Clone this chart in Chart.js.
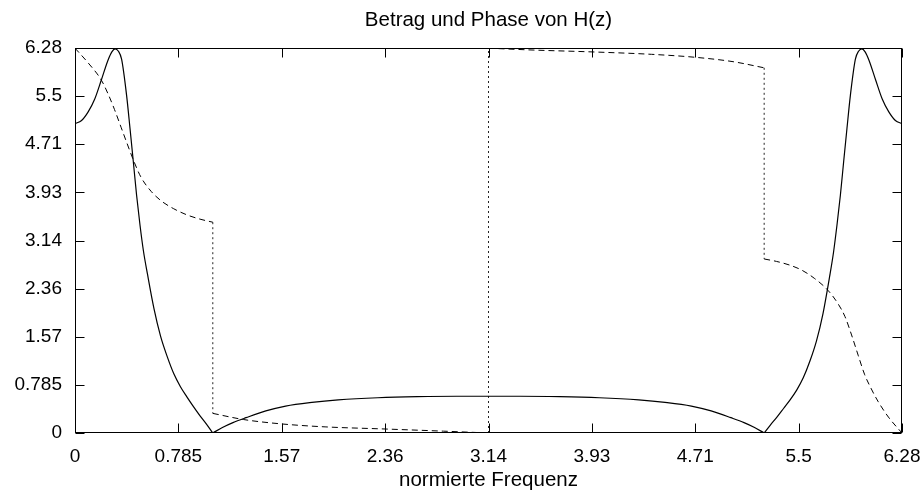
<!DOCTYPE html>
<html>
<head>
<meta charset="utf-8">
<script src="https://cdn.jsdelivr.net/npm/chart.js@4.4.1/dist/chart.umd.min.js"></script>
<style>
  html, body { margin: 0; padding: 0; background: #fff; }
  canvas { display: block; }
</style>
</head>
<body>
<canvas id="chart" width="924" height="496"></canvas>
<script>
// Betrag und Phase von H(z)
const TITLE = 'Betrag und Phase von H(z)';
const X_TITLE = 'normierte Frequenz';
const TICK_POS = [0, 0.7854, 1.5708, 2.3562, 3.1416, 3.9270, 4.7124, 5.4978, 6.2832];
const TICK_LABELS = ['0', '0.785', '1.57', '2.36', '3.14', '3.93', '4.71', '5.5', '6.28'];

// magnitude |H|, split at the two zeros
const magX1 = [0, 0.05, 0.1, 0.15, 0.2, 0.25, 0.28, 0.304, 0.33, 0.354, 0.392, 0.418, 0.443, 0.468, 0.494, 0.52, 0.55, 0.6, 0.65, 0.7, 0.75, 0.8, 0.85, 0.9, 0.95, 1.0, 1.047];
const magY1 = [5.05, 5.10, 5.24, 5.45, 5.76, 6.08, 6.22, 6.27, 6.23, 6.10, 5.51, 4.97, 4.43, 3.88, 3.39, 2.97, 2.60, 2.03, 1.58, 1.25, 0.97, 0.76, 0.59, 0.43, 0.28, 0.14, 0];
const magX2 = [1.047, 1.12, 1.2, 1.3, 1.45, 1.6, 1.8, 2.0, 2.3, 2.6, 2.9, 3.1416, 3.383, 3.683, 3.983, 4.283, 4.483, 4.683, 4.833, 4.983, 5.083, 5.163, 5.236];
const magY2 = [0, 0.09, 0.17, 0.25, 0.36, 0.44, 0.50, 0.54, 0.575, 0.593, 0.60, 0.60, 0.60, 0.593, 0.575, 0.54, 0.50, 0.44, 0.36, 0.25, 0.17, 0.09, 0];
const magX3 = [5.236, 5.283, 5.333, 5.383, 5.433, 5.483, 5.533, 5.583, 5.633, 5.683, 5.733, 5.763, 5.789, 5.815, 5.84, 5.865, 5.891, 5.929, 5.953, 5.979, 6.003, 6.033, 6.083, 6.133, 6.183, 6.233, 6.283];
const magY3 = [0, 0.13, 0.26, 0.40, 0.54, 0.70, 0.90, 1.17, 1.50, 1.95, 2.55, 2.95, 3.39, 3.88, 4.43, 4.97, 5.51, 6.10, 6.23, 6.27, 6.22, 6.08, 5.76, 5.45, 5.24, 5.10, 5.05];

// phase (mod 2pi), split at the jumps
const phX1 = [0, 0.1, 0.2, 0.25, 0.3, 0.35, 0.4, 0.45, 0.5, 0.58, 0.66, 0.75, 0.85, 0.95, 1.047];
const phY1 = [6.28, 6.04, 5.76, 5.54, 5.28, 4.99, 4.70, 4.42, 4.18, 3.94, 3.78, 3.66, 3.56, 3.49, 3.44];
const phX2 = [1.047, 1.28, 1.56, 1.9, 2.36, 2.8, 3.1416];
const phY2 = [0.32, 0.22, 0.15, 0.10, 0.065, 0.03, 0];
const phX3 = [3.1416, 3.48, 3.92, 4.38, 4.72, 5.0, 5.236];
const phY3 = [6.28, 6.25, 6.22, 6.18, 6.13, 6.06, 5.96];
const phX4 = [5.236, 5.33, 5.43, 5.52, 5.62, 5.72, 5.80, 5.85, 5.90, 5.95, 6.00, 6.05, 6.10, 6.18, 6.283];
const phY4 = [2.84, 2.80, 2.74, 2.66, 2.52, 2.33, 2.10, 1.90, 1.60, 1.27, 0.95, 0.72, 0.52, 0.26, 0];

// vertical phase jumps
const jumpX = [1.047, 3.1416, 5.236];
const jumpFrom = [3.44, 0, 5.96];
const jumpTo = [0.32, 6.28, 2.84];

const FONT = '"Liberation Sans", Arial, sans-serif';

function pts(xs, ys) { return xs.map((x, i) => ({ x, y: ys[i] })); }

function solid(xs, ys) {
  return { data: pts(xs, ys), borderColor: '#000', borderWidth: 1.2, cubicInterpolationMode: 'monotone' };
}
function dashed(xs, ys) {
  return { data: pts(xs, ys), borderColor: '#000', borderWidth: 1, borderDash: [6, 4], cubicInterpolationMode: 'monotone' };
}
function dotted(i) {
  return { data: [{ x: jumpX[i], y: jumpFrom[i] }, { x: jumpX[i], y: jumpTo[i] }], borderColor: '#222', borderWidth: 1, borderDash: [2, 3] };
}

// gnuplot-like frame with inward ticks on all sides, plus title
const framePlugin = {
  id: 'frame',
  afterDraw(chart) {
    const { ctx, chartArea: a, scales: { x, y } } = chart;
    const L = Math.round(a.left) + 0.5, R = Math.round(a.right) - 0.5;
    const T = Math.round(a.top) + 0.5, B = Math.round(a.bottom) - 0.5;
    ctx.save();
    ctx.strokeStyle = '#000';
    ctx.lineWidth = 1;
    ctx.strokeRect(L, T, R - L, B - T);
    ctx.beginPath();
    TICK_POS.forEach(v => {
      const px = Math.round(x.getPixelForValue(v)) + 0.5;
      const py = Math.round(y.getPixelForValue(v)) + 0.5;
      ctx.moveTo(px, B); ctx.lineTo(px, B - 9);
      ctx.moveTo(px, T); ctx.lineTo(px, T + 9);
      ctx.moveTo(L, py); ctx.lineTo(L + 9, py);
      ctx.moveTo(R, py); ctx.lineTo(R - 9, py);
    });
    ctx.stroke();
    ctx.fillStyle = '#000';
    ctx.font = '20.5px ' + FONT;
    ctx.textAlign = 'center';
    ctx.textBaseline = 'alphabetic';
    ctx.fillText(TITLE, (a.left + a.right) / 2, 26);
    ctx.restore();
  }
};

new Chart(document.getElementById('chart'), {
  type: 'scatter',
  data: {
    datasets: [
      solid(magX1, magY1), solid(magX2, magY2), solid(magX3, magY3),
      dashed(phX1, phY1), dashed(phX2, phY2), dashed(phX3, phY3), dashed(phX4, phY4),
      dotted(0), dotted(1), dotted(2)
    ]
  },
  options: {
    responsive: false,
    animation: false,
    devicePixelRatio: 1,
    showLine: true,
    elements: { point: { radius: 0, hoverRadius: 0 }, line: { tension: 0 } },
    layout: { padding: { top: 48, right: 22, left: 0, bottom: 0 } },
    plugins: { legend: { display: false }, tooltip: { enabled: false }, title: { display: false } },
    scales: {
      x: {
        type: 'linear', min: 0, max: 6.2832,
        afterFit: s => { s.height = 63; s.paddingLeft = 0; s.paddingRight = 0; },
        afterBuildTicks: s => { s.ticks = TICK_POS.map(v => ({ value: v })); },
        grid: { display: false, drawTicks: false },
        border: { display: false },
        ticks: {
          color: '#000', padding: 12, maxRotation: 0, autoSkip: false,
          font: { family: FONT, size: 19 },
          callback: (v, i) => TICK_LABELS[i]
        },
        title: { display: true, text: X_TITLE, color: '#000', font: { family: FONT, size: 20.5 }, padding: { top: 0, bottom: 3 } }
      },
      y: {
        type: 'linear', min: 0, max: 6.2832,
        afterFit: s => { s.width = 75; s.paddingTop = 0; s.paddingBottom = 0; },
        afterBuildTicks: s => { s.ticks = TICK_POS.map(v => ({ value: v })); },
        grid: { display: false, drawTicks: false },
        border: { display: false },
        ticks: {
          color: '#000', padding: 13, autoSkip: false,
          font: { family: FONT, size: 19 },
          callback: (v, i) => TICK_LABELS[i]
        }
      }
    }
  },
  plugins: [framePlugin]
});
</script>
</body>
</html>
